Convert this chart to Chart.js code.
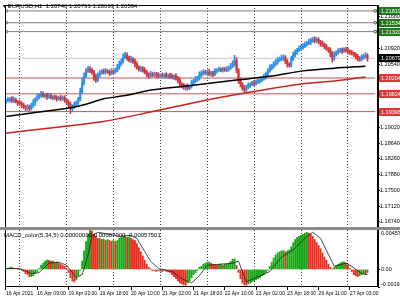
<!DOCTYPE html>
<html>
<head>
<meta charset="utf-8">
<script src="https://cdn.jsdelivr.net/npm/chart.js@4.4.0/dist/chart.umd.min.js"></script>
<style>
html, body { margin: 0; padding: 0; background: #fff; }
canvas { display: block; }
</style>
</head>
<body>
<canvas id="chart" width="400" height="300"></canvas>
<script>
// EURUSD H1, 15 Apr 17:00 .. 27 Apr, one entry per hourly bar
const timeLabels = ["16 Apr 2021", "16 Apr 09:00", "19 Apr 02:00", "19 Apr 18:00", "20 Apr 10:00", "21 Apr 02:00",
    "21 Apr 18:00", "22 Apr 10:00", "23 Apr 02:00", "23 Apr 18:00", "26 Apr 11:00", "27 Apr 03:00"];
const labelEvery = 16;
const daySeparators = [7, 31, 55, 79, 103, 127, 151, 175];

const priceTicks = [1.16740, 1.17120, 1.17500, 1.17880, 1.18260, 1.18640, 1.19020,
    1.19400, 1.19780, 1.20160, 1.20540, 1.20920, 1.21300, 1.21680];

const firstOpen = 1.19640;
const closes = [
    1.19657, 1.19681, 1.19705, 1.19657, 1.19681, 1.19634, 1.19610, 1.19586, 1.19562, 1.19515,
    1.19491, 1.19515, 1.19467, 1.19539, 1.19610, 1.19681, 1.19752, 1.19776, 1.19824, 1.19776,
    1.19800, 1.19752, 1.19776, 1.19729, 1.19752, 1.19729, 1.19705, 1.19729, 1.19705, 1.19729,
    1.19681, 1.19634, 1.19562, 1.19467, 1.19515, 1.19562, 1.19610, 1.19681, 1.19871, 1.20085,
    1.20251, 1.20370, 1.20417, 1.20394, 1.20346, 1.20227, 1.20156, 1.20275, 1.20322, 1.20370,
    1.20346, 1.20370, 1.20346, 1.20322, 1.20370, 1.20346, 1.20394, 1.20465, 1.20536, 1.20607,
    1.20702, 1.20750, 1.20679, 1.20631, 1.20655, 1.20607, 1.20536, 1.20465, 1.20417, 1.20441,
    1.20394, 1.20346, 1.20299, 1.20251, 1.20299, 1.20275, 1.20299, 1.20275, 1.20251, 1.20275,
    1.20251, 1.20275, 1.20251, 1.20275, 1.20251, 1.20227, 1.20251, 1.20204, 1.20156, 1.20061,
    1.20014, 1.19990, 1.20014, 1.19966, 1.19990, 1.20085, 1.20132, 1.20180, 1.20204, 1.20275,
    1.20322, 1.20346, 1.20322, 1.20346, 1.20299, 1.20322, 1.20299, 1.20370, 1.20394, 1.20417,
    1.20394, 1.20417, 1.20394, 1.20417, 1.20441, 1.20489, 1.20536, 1.20631, 1.20394, 1.20156,
    1.20061, 1.19966, 1.19919, 1.19990, 1.20037, 1.20061, 1.20085, 1.20061, 1.20109, 1.20132,
    1.20156, 1.20180, 1.20227, 1.20299, 1.20370, 1.20441, 1.20489, 1.20536, 1.20584, 1.20631,
    1.20655, 1.20679, 1.20702, 1.20607, 1.20536, 1.20512, 1.20655, 1.20750, 1.20821, 1.20869,
    1.20916, 1.20940, 1.20964, 1.21011, 1.21035, 1.21059, 1.21106, 1.21130, 1.21106, 1.21130,
    1.21082, 1.21035, 1.21011, 1.20964, 1.20916, 1.20893, 1.20797, 1.20679, 1.20774, 1.20821,
    1.20845, 1.20869, 1.20857, 1.20893, 1.20869, 1.20845, 1.20821, 1.20797, 1.20774, 1.20726,
    1.20679, 1.20655, 1.20702, 1.20726, 1.20750, 1.20679
];
// shadows above / below each body, in pips
const upperPips = [
    4, 6, 3, 5, 7, 4, 3, 6, 5, 4, 3, 5, 4, 6, 8, 5, 7, 4, 6, 5,
    3, 4, 6, 5, 3, 4, 5, 3, 6, 4, 5, 3, 4, 6, 5, 7, 4, 6, 9, 12,
    8, 7, 10, 6, 5, 4, 7, 5, 6, 4, 5, 7, 4, 5, 6, 3, 5, 7, 8, 6,
    9, 12, 6, 5, 7, 4, 5, 6, 3, 5, 4, 6, 5, 3, 7, 4, 5, 4, 6, 3,
    5, 4, 6, 3, 4, 5, 3, 6, 4, 5, 3, 6, 4, 5, 4, 7, 5, 6, 4, 8,
    5, 6, 4, 5, 7, 4, 5, 6, 4, 5, 3, 5, 4, 6, 5, 7, 8, 10, 6, 4,
    5, 3, 6, 4, 5, 3, 4, 6, 5, 4, 6, 5, 7, 5, 6, 8, 5, 6, 7, 6,
    5, 8, 6, 4, 5, 3, 7, 8, 6, 5, 6, 5, 7, 6, 5, 8, 6, 10, 7, 5,
    4, 3, 6, 4, 5, 3, 4, 5, 6, 4, 7, 5, 6, 4, 5, 6, 4, 5, 3, 4,
    5, 4, 6, 5, 7, 4
];
const lowerPips = [
    5, 3, 6, 4, 5, 3, 6, 4, 7, 5, 4, 6, 5, 3, 4, 6, 3, 5, 4, 3,
    5, 6, 4, 3, 5, 4, 6, 3, 5, 4, 6, 5, 7, 9, 6, 5, 4, 5, 3, 4,
    5, 4, 3, 6, 5, 8, 6, 4, 5, 3, 4, 5, 3, 6, 4, 5, 3, 4, 5, 3,
    4, 3, 5, 4, 6, 5, 7, 5, 4, 6, 5, 4, 6, 5, 3, 4, 5, 6, 4, 5,
    3, 5, 4, 6, 5, 4, 6, 5, 7, 6, 5, 6, 8, 5, 4, 3, 5, 4, 6, 5,
    4, 5, 3, 6, 4, 5, 6, 4, 5, 3, 4, 5, 3, 4, 5, 3, 4, 5, 6, 8,
    7, 6, 5, 4, 5, 6, 4, 5, 3, 4, 5, 4, 3, 5, 4, 3, 4, 5, 4, 5,
    3, 4, 5, 6, 7, 5, 4, 3, 4, 5, 3, 4, 5, 3, 4, 3, 5, 4, 6, 5,
    6, 7, 5, 6, 5, 7, 8, 9, 5, 4, 5, 3, 6, 4, 5, 6, 5, 4, 6, 7,
    6, 5, 4, 5, 4, 7
];
// bars with a long shadow: [bar, price]
const highWicks = [[42, 1.20489], [61, 1.20821], [117, 1.20750], [157, 1.21178]];
const lowWicks = [[10, 1.19420], [33, 1.19349], [122, 1.19871], [167, 1.20584]];

// moving averages read at [bar, price]
const maFast = [[0, 1.19277], [30, 1.19467], [33, 1.19491], [40, 1.19562], [45, 1.19634], [50, 1.19705],
    [60, 1.19776], [75, 1.19919], [88, 1.19990], [101, 1.20061], [118, 1.20156], [136, 1.20251],
    [151, 1.20370], [168, 1.20441], [184, 1.20489]];
const maSlow = [[0, 1.18874], [25, 1.19016], [50, 1.19159], [75, 1.19396], [101, 1.19657],
    [126, 1.19871], [151, 1.20061], [168, 1.20132], [184, 1.20227]];

const greenLevels = [1.21819, 1.21534, 1.21320];
const redLevels = [1.20204, 1.19824, 1.19396];

const macdTicks = [-0.00194, 0, 0.0045716];
const macdTickLabels = ["-0.001940", "0.00", "0.0045716"];
const macd = [
    0.00011, 0.00011, 0.00023, 0.00023, 0.00011, 0.00011, 0.00002, 0.00001,
    -0.00011, -0.00023, -0.00046, -0.00057, -0.00080, -0.00080, -0.00069, -0.00046, -0.00023,
    0.00011, 0.00046, 0.00069, 0.00091, 0.00103, 0.00100, 0.00091, 0.00094, 0.00080, 0.00083, 0.00069,
    0.00057, 0.00046, 0.00034, 0.00011,
    -0.00034, -0.00091, -0.00126, -0.00137, -0.00114, -0.00069, -0.00011,
    0.00091, 0.00206, 0.00309, 0.00389, 0.00434, 0.00423, 0.00389, 0.00366, 0.00343,
    0.00345, 0.00331, 0.00335, 0.00320, 0.00331, 0.00320, 0.00309, 0.00320, 0.00309, 0.00320,
    0.00343, 0.00354, 0.00366, 0.00369, 0.00354, 0.00357, 0.00343, 0.00331, 0.00320,
    0.00286, 0.00240, 0.00194, 0.00149, 0.00103, 0.00057, 0.00023, 0.00002,
    -0.00011, -0.00014, -0.00023, -0.00011, -0.00020, -0.00023, -0.00011, -0.00020, -0.00026, -0.00034,
    -0.00057, -0.00080, -0.00103, -0.00126, -0.00149, -0.00160, -0.00171, -0.00174,
    -0.00149, -0.00126, -0.00091, -0.00057, -0.00034,
    -0.00011, 0.00023, 0.00034, 0.00057, 0.00069, 0.00080, 0.00083, 0.00069, 0.00057, 0.00054,
    0.00046, 0.00057, 0.00060, 0.00046, 0.00057, 0.00060, 0.00069, 0.00091, 0.00114, 0.00117,
    0.00046, -0.00034, -0.00103, -0.00149, -0.00171, -0.00174,
    -0.00160, -0.00149, -0.00137, -0.00126, -0.00114, -0.00103, -0.00091, -0.00069, -0.00057, -0.00034, -0.00011,
    0.00034, 0.00080, 0.00126, 0.00160, 0.00183, 0.00194, 0.00206, 0.00209, 0.00194, 0.00206, 0.00217,
    0.00251, 0.00297, 0.00331, 0.00354, 0.00366, 0.00377, 0.00389, 0.00400, 0.00411, 0.00400,
    0.00389, 0.00366, 0.00331, 0.00297, 0.00263, 0.00229, 0.00183, 0.00137, 0.00103, 0.00057, 0.00023, 0.00002,
    0.00023, 0.00046, 0.00057, 0.00069, 0.00080, 0.00083, 0.00069,
    0.00046, 0.00011, -0.00023, -0.00057, -0.00069, -0.00080,
    -0.00069, -0.00057, -0.00046, -0.00057, -0.00034
];
const macdSignal = [[0, 0.00011], [7, 0.00011], [13, -0.00046], [17, -0.00034], [22, 0.00069], [27, 0.00080],
    [31, 0.00046], [36, -0.00091], [39, -0.00057], [42, 0.00160], [44, 0.00366], [47, 0.00411],
    [58, 0.00366], [64, 0.00377], [67, 0.00343], [74, 0.00091], [78, 0.00011], [85, -0.00023],
    [90, -0.00103], [95, -0.00149], [99, -0.00069], [103, 0.00046], [116, 0.00069], [119, 0.00091],
    [123, -0.00137], [135, -0.00023], [141, 0.00137], [147, 0.00217], [154, 0.00366], [157, 0.00411],
    [161, 0.00343], [168, 0.00034], [174, 0.00069], [177, 0.00034], [182, -0.00046], [185, -0.00057]];

const title = "EURUSD,H1  1.20746 1.20793 1.20693 1.20594";
const macdTitle = "MACD_color(5,34,5) 0.00000000 0.00007000 -0.00057501";

const xMin = -0.5, xMax = 190.4;
const PIP = 0.0001;
const FONT = "'Liberation Sans', Arial, sans-serif";
const UP = "#2e8fe6", DOWN = "#d3353b";

const opens = closes.map((c, i) => i === 0 ? firstOpen : closes[i - 1]);
const highs = closes.map((c, i) => Math.max(c, opens[i]) + upperPips[i] * PIP);
const lows = closes.map((c, i) => Math.min(c, opens[i]) - lowerPips[i] * PIP);
highWicks.forEach(([i, p]) => { highs[i] = p; });
lowWicks.forEach(([i, p]) => { lows[i] = p; });
const candleColors = closes.map((c, i) => c >= opens[i] ? UP : DOWN);
const lastPrice = closes[closes.length - 1];

function levelLine(v, color, marks) {
    return {
        type: "line", xAxisID: "x", yAxisID: "y",
        data: [{ x: 0, y: v }, { x: 189, y: v }],
        borderColor: color, borderWidth: 1,
        pointRadius: marks ? 1.6 : 0, pointStyle: "rect",
        pointBackgroundColor: "#fff", pointBorderColor: marks ? "#2a7a2a" : color, pointBorderWidth: 1,
        order: 5
    };
}

function zeroPad(scale) {
    scale.paddingTop = 0; scale.paddingBottom = 0;
    scale.paddingLeft = 0; scale.paddingRight = 0;
}

const decor = {
    id: "decor",
    beforeDraw(chart) {
        const ctx = chart.ctx;
        ctx.save();
        ctx.fillStyle = "#fff";
        ctx.fillRect(0, 0, chart.width, chart.height);
        ctx.restore();
    },
    afterDraw(chart) {
        const { ctx, chartArea: a } = chart;
        const y = chart.scales.y, m = chart.scales.m;
        ctx.save();
        // frame and panel divider
        ctx.strokeStyle = "#000";
        ctx.lineWidth = 1;
        ctx.strokeRect(a.left + 0.5, a.top + 0.5, a.right - a.left - 1, a.bottom - a.top - 1);
        ctx.fillStyle = "#8a8a8a";
        ctx.fillRect(0, m.top - 1, chart.width, 3);

        ctx.fillStyle = "#000";
        ctx.font = "6px " + FONT;
        ctx.textBaseline = "middle";
        ctx.textAlign = "left";
        ctx.fillText("\u25BE " + title, 3, 6);
        ctx.fillText(macdTitle, 4, m.top + 7);

        // macd axis labels
        ctx.font = "5.5px " + FONT;
        macdTicks.forEach((v, i) => {
            const p = m.getPixelForValue(v);
            ctx.textBaseline = i === 2 ? "top" : (i === 0 ? "bottom" : "middle");
            ctx.fillText(macdTickLabels[i], a.right + 3, p + (i === 2 ? 3 : 0));
        });

        // price tags on the axis
        ctx.textBaseline = "middle";
        const tag = (v, bg) => {
            const p = Math.round(y.getPixelForValue(v));
            ctx.fillStyle = bg;
            ctx.fillRect(a.right + 1, p - 4, chart.width - a.right - 1, 8);
            ctx.fillStyle = "#fff";
            ctx.fillText(v.toFixed(5), a.right + 3, p + 0.5);
        };
        greenLevels.forEach(v => tag(v, "#1f7a1f"));
        redLevels.forEach(v => tag(v, "#e0363a"));
        tag(lastPrice, "#000");
        ctx.restore();
    }
};

Chart.defaults.font.family = FONT;
Chart.defaults.font.size = 5.5;
Chart.defaults.color = "#000";

new Chart(document.getElementById("chart"), {
    type: "bar",
    data: {
        datasets: [
            ...greenLevels.map(v => levelLine(v, "#7d7d7d", true)),
            ...redLevels.map(v => levelLine(v, "#c95454", false)),
            {
                type: "line", xAxisID: "x", yAxisID: "y",
                data: [{ x: 0, y: lastPrice }, { x: 189, y: lastPrice }],
                borderColor: "#c8c8c8", borderWidth: 1, pointRadius: 0, order: 6
            },
            {
                type: "line", xAxisID: "x", yAxisID: "y",
                data: maSlow.map(([x, v]) => ({ x, y: v })),
                borderColor: "#c8231e", borderWidth: 1.5, pointRadius: 0, tension: 0.3, order: 1
            },
            {
                type: "line", xAxisID: "x", yAxisID: "y",
                data: maFast.map(([x, v]) => ({ x, y: v })),
                borderColor: "#000", borderWidth: 1.5, pointRadius: 0, tension: 0.3, order: 1
            },
            {
                xAxisID: "x", yAxisID: "y", grouped: false,
                data: closes.map((c, i) => ({ x: i, y: [lows[i], highs[i]] })),
                backgroundColor: candleColors, barThickness: 1, minBarLength: 1, order: 3
            },
            {
                xAxisID: "x", yAxisID: "y", grouped: false,
                data: closes.map((c, i) => ({ x: i, y: [opens[i], c] })),
                backgroundColor: candleColors, barThickness: 1.5, minBarLength: 1, order: 2
            },
            {
                xAxisID: "x", yAxisID: "m", grouped: false,
                data: macd.map((v, i) => ({ x: i, y: v })),
                backgroundColor: macd.map((v, i) => i > 0 && v < macd[i - 1] ? "#ee2a1e" : "#14a814"),
                barThickness: 1.2, order: 3
            },
            {
                type: "line", xAxisID: "x", yAxisID: "m",
                data: macdSignal.map(([x, v]) => ({ x, y: v })),
                borderColor: "#202020", borderWidth: 0.8, pointRadius: 0, order: 1
            }
        ]
    },
    options: {
        responsive: false,
        animation: false,
        devicePixelRatio: 1,
        layout: { padding: 0 },
        plugins: { legend: { display: false }, tooltip: { enabled: false } },
        scales: {
            x: {
                type: "linear", position: "bottom", min: xMin, max: xMax, offset: false,
                grid: { drawOnChartArea: false, offset: false, tickLength: 3, color: "#000" },
                border: { display: false },
                ticks: {
                    autoSkip: false, maxRotation: 0, align: "start", padding: 1,
                    font: { size: 5 },
                    callback: v => timeLabels[Math.round(v / labelEvery)]
                },
                afterBuildTicks: s => { s.ticks = timeLabels.map((t, i) => ({ value: i * labelEvery })); },
                afterFit: s => { s.height = 13; zeroPad(s); }
            },
            xs: {
                type: "linear", position: "bottom", min: xMin, max: xMax, offset: false,
                grid: { drawTicks: false, offset: false, color: "#444" },
                border: { display: false, dash: [1, 2] },
                ticks: { display: false },
                afterBuildTicks: s => { s.ticks = daySeparators.map(v => ({ value: v })); },
                afterFit: s => { s.height = 0; zeroPad(s); }
            },
            y: {
                type: "linear", position: "right", stack: "panes", stackWeight: 227, weight: 0,
                min: 1.16594, max: 1.21961,
                grid: { drawOnChartArea: false, tickLength: 2, color: "#000" },
                border: { color: "#000" },
                ticks: { autoSkip: false, padding: 0, callback: v => v.toFixed(5) },
                afterBuildTicks: s => { s.ticks = priceTicks.map(v => ({ value: v })); },
                afterFit: s => { s.width = 22; zeroPad(s); }
            },
            m: {
                type: "linear", position: "right", stack: "panes", stackWeight: 60, weight: 1,
                min: macdTicks[0], max: macdTicks[2],
                grid: { drawOnChartArea: false, tickLength: 2, color: "#000" },
                border: { color: "#000" },
                ticks: { display: false },
                afterBuildTicks: s => { s.ticks = macdTicks.map(v => ({ value: v })); },
                afterFit: s => { s.width = 22; zeroPad(s); }
            }
        }
    },
    plugins: [decor]
});
</script>
</body>
</html>
